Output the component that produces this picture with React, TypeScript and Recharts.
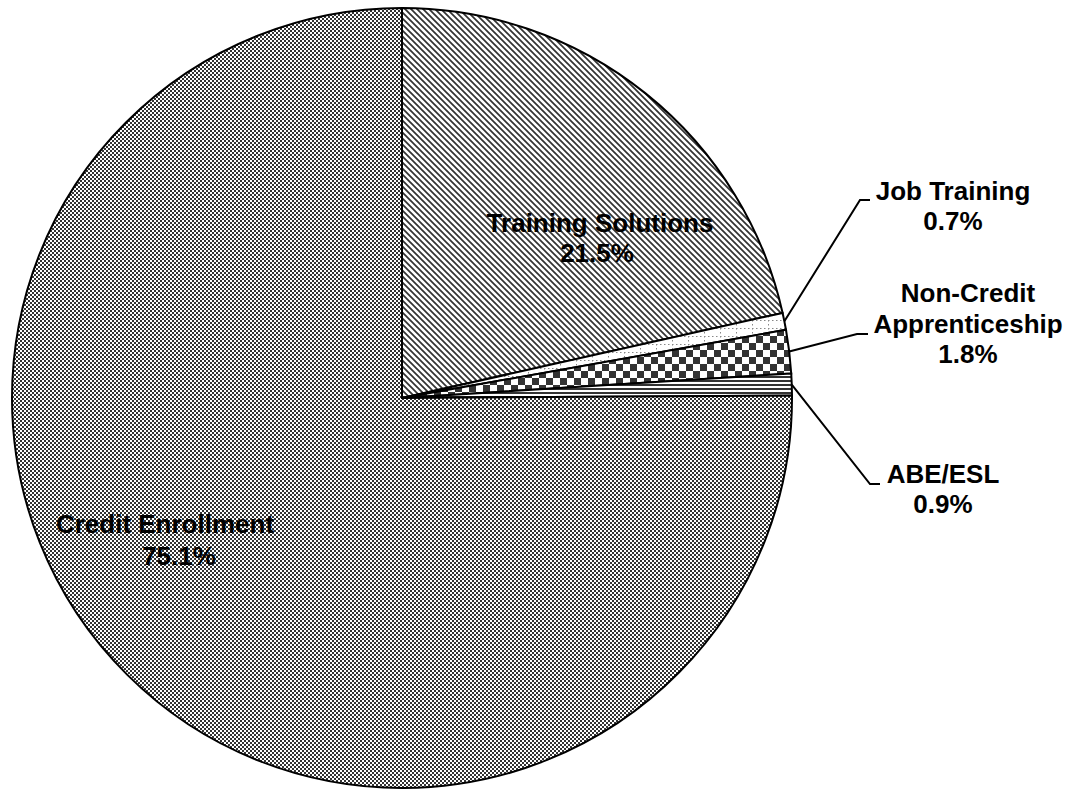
import React from "react";
import { PieChart, Pie, Cell } from "recharts";

const categories = ["Training Solutions", "Job Training", "Non-Credit Apprenticeship", "ABE/ESL", "Credit Enrollment"];
const shares = [21.5, 0.7, 1.8, 0.9, 75.1];
const labelLines: string[][] = [
  ["Training Solutions", "21.5%"],
  ["Job Training", "0.7%"],
  ["Non-Credit", "Apprenticeship", "1.8%"],
  ["ABE/ESL", "0.9%"],
  ["Credit Enrollment", "75.1%"],
];
const patternIds = ["pTraining", "pJob", "pNonCredit", "pAbe", "pCredit"];

const data = categories.map((name, i) => ({ name, value: shares[i] }));

// label layout: offsets relative to pie centre (inside labels) or elbow/text for outside labels
const layout: any[] = [
  { inside: true, lines: [{ dx: 198, dy: -166 }, { dx: 195, dy: -136 }] },
  { inside: false, elbow: { dx: 458, dy: -198 }, end: { dx: 468 }, text: { dx: 551, dy: -198, gap: 30 } },
  { inside: false, elbow: { dx: 455, dy: -64 }, end: { dx: 466 }, text: { dx: 566, dy: -96, gap: 30.5 } },
  { inside: false, elbow: { dx: 468, dy: 86 }, end: { dx: 478 }, text: { dx: 541, dy: 85, gap: 30 } },
  { inside: true, lines: [{ dx: -237, dy: 135 }, { dx: -223, dy: 167 }] },
];

const RAD = Math.PI / 180;
const fontStyle = { fontFamily: "'Liberation Sans', Arial, sans-serif", fontWeight: 700, fontSize: 26 };

const renderLabel = (props: any) => {
  const { cx, cy, midAngle, outerRadius, index } = props;
  const cfg = layout[index];
  const lines = labelLines[index];
  if (cfg.inside) {
    return (
      <g>
        {lines.map((t, k) => (
          <text key={k} x={cx + cfg.lines[k].dx} y={cy + cfg.lines[k].dy} textAnchor="middle" fill="#000" style={fontStyle}>
            {t}
          </text>
        ))}
      </g>
    );
  }
  const sx = cx + outerRadius * Math.cos(-midAngle * RAD);
  const sy = cy + outerRadius * Math.sin(-midAngle * RAD);
  const ex = cx + cfg.elbow.dx;
  const ey = cy + cfg.elbow.dy;
  const tx = cx + cfg.end.dx;
  return (
    <g>
      <polyline points={`${sx},${sy} ${ex},${ey} ${tx},${ey}`} fill="none" stroke="#000" strokeWidth={2} />
      {lines.map((t, k) => (
        <text key={k} x={cx + cfg.text.dx} y={cy + cfg.text.dy + k * cfg.text.gap} textAnchor="middle" fill="#000" style={fontStyle}>
          {t}
        </text>
      ))}
    </g>
  );
};

export default function App() {
  return (
    <div style={{ position: "absolute", left: 0, top: 0, width: 1079, height: 790, background: "#fff" }}>
      <PieChart width={1079} height={790} margin={{ top: 0, right: 0, bottom: 0, left: 0 }}>
        <defs>
          <pattern id="pTraining" width={6} height={6} patternUnits="userSpaceOnUse">
            <rect width={6} height={6} fill="#fff" />
            <path d="M-1,5 L1,7 M0,0 L6,6 M5,-1 L7,1" stroke="#333" strokeWidth={1.7} />
          </pattern>
          <pattern id="pJob" width={16} height={8} patternUnits="userSpaceOnUse">
            <rect width={16} height={8} fill="#fff" />
            <path d="M0,0.5 L16,0.5" stroke="#888" strokeWidth={1} strokeDasharray="1.5,2.5" />
            <path d="M0.5,0 L0.5,8" stroke="#888" strokeWidth={1} strokeDasharray="1.5,2.5" />
          </pattern>
          <pattern id="pNonCredit" width={14} height={14} patternUnits="userSpaceOnUse">
            <rect width={14} height={14} fill="#fff" />
            <rect x={0} y={0} width={7} height={7} fill="#333" />
            <rect x={7} y={7} width={7} height={7} fill="#333" />
          </pattern>
          <pattern id="pAbe" width={4} height={4} patternUnits="userSpaceOnUse">
            <rect width={4} height={4} fill="#fff" />
            <rect x={0} y={0} width={4} height={2} fill="#333" />
          </pattern>
          <pattern id="pCredit" width={4} height={4} patternUnits="userSpaceOnUse">
            <rect width={4} height={4} fill="#fff" />
            <rect x={0} y={0} width={2} height={2} fill="#333" />
            <rect x={2} y={2} width={2} height={2} fill="#333" />
          </pattern>
        </defs>
        <Pie
          data={data}
          dataKey="value"
          nameKey="name"
          cx={402}
          cy={398}
          outerRadius={390}
          innerRadius={0}
          startAngle={90}
          endAngle={-270}
          stroke="#000"
          strokeWidth={2}
          label={renderLabel}
          labelLine={false}
          isAnimationActive={false}
        >
          {data.map((d, i) => (
            <Cell key={d.name} fill={`url(#${patternIds[i]})`} stroke="#000" strokeWidth={2} />
          ))}
        </Pie>
      </PieChart>
    </div>
  );
}
